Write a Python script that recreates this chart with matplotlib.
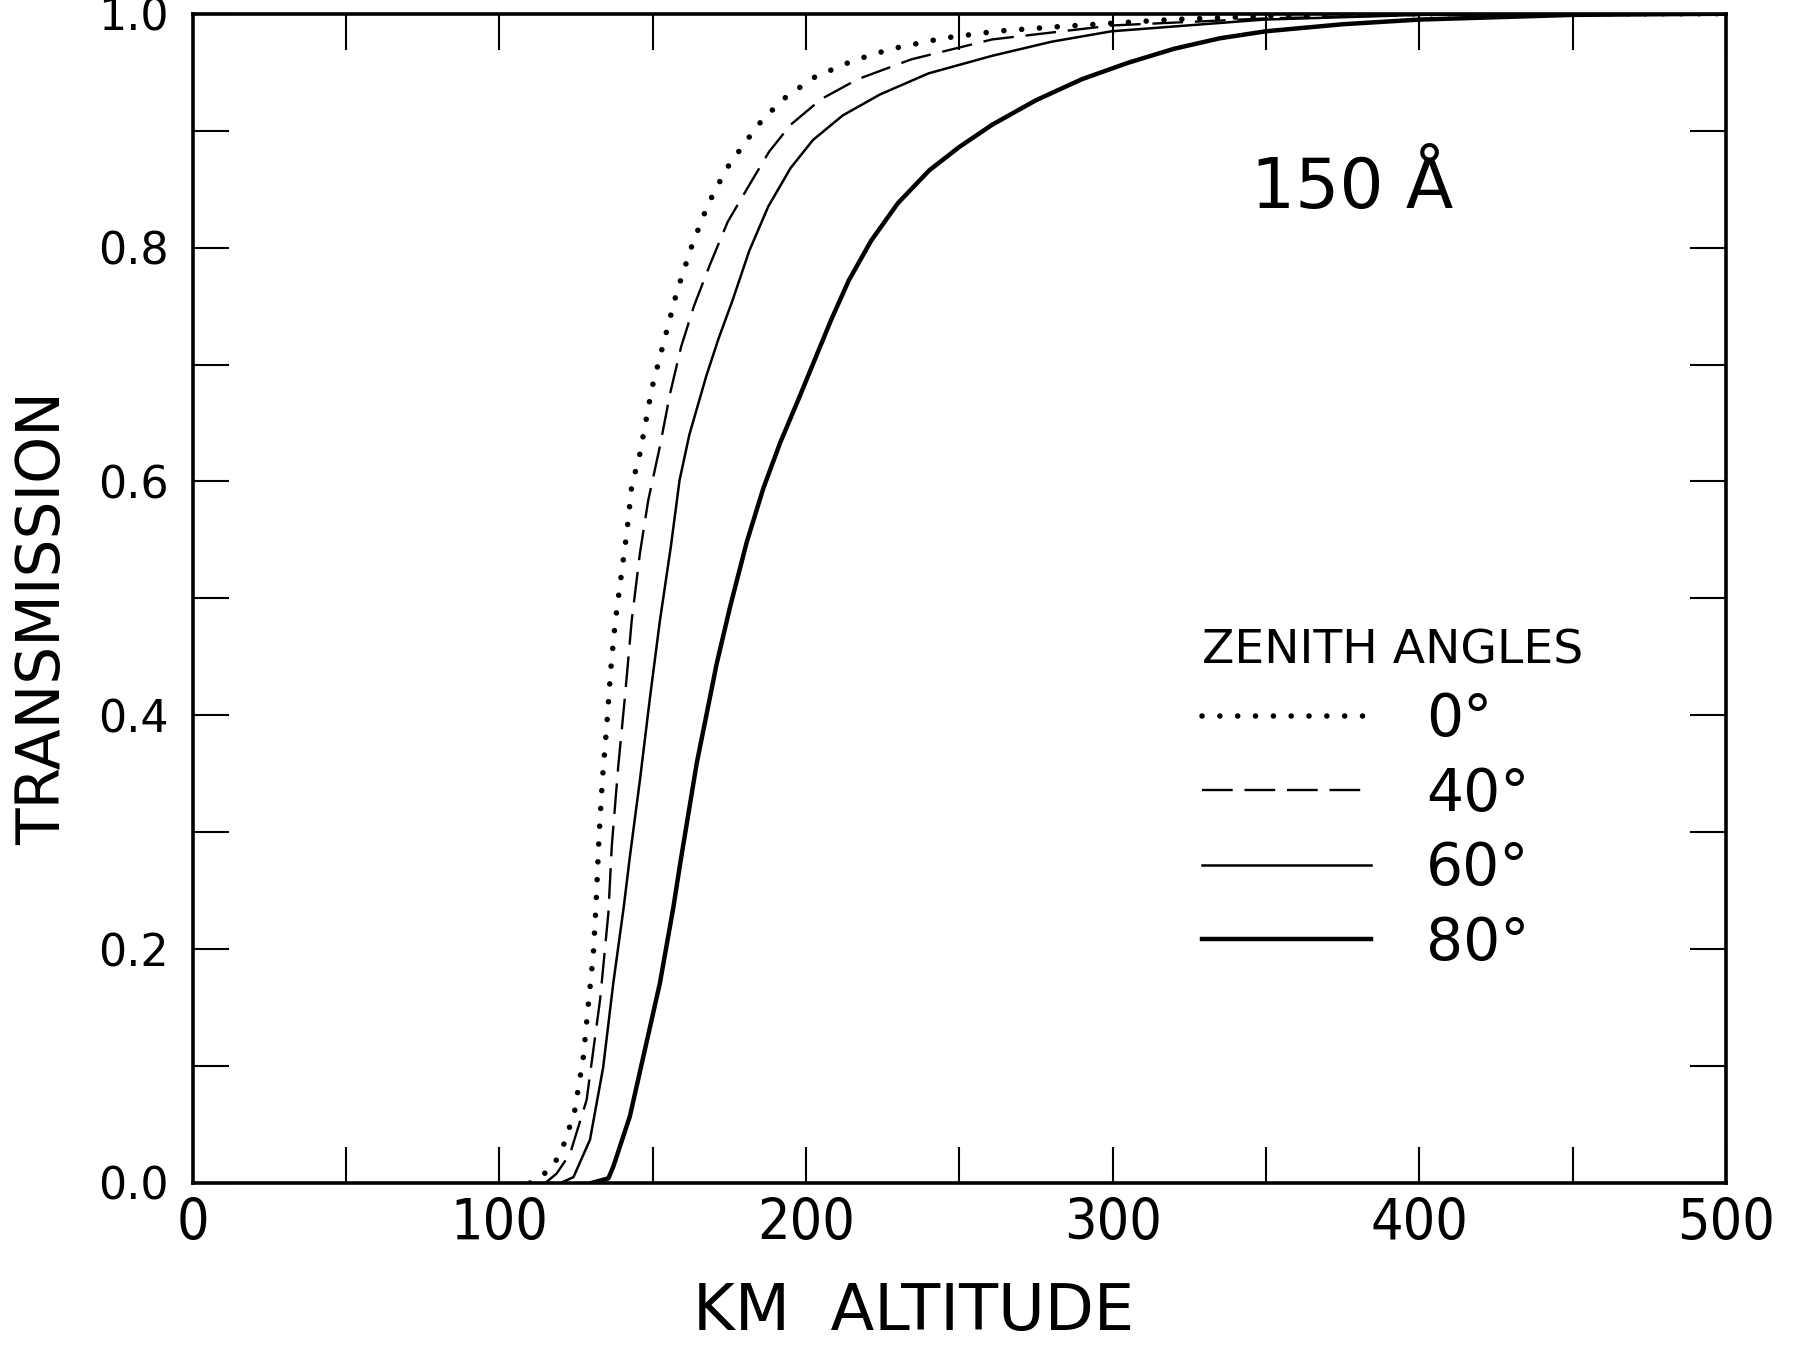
import matplotlib
matplotlib.use("Agg")
import matplotlib.pyplot as plt
from matplotlib.ticker import MultipleLocator, FixedLocator

# ---- data ----
alt_0 = [110, 117, 120.4, 124.5, 127.4, 129.1, 130.7, 131.6, 132.6, 133.7, 135.0, 136.4,
         137.8, 139.6, 141.6, 143.2, 145.9, 149.8, 157.9, 163.0, 168.1, 174.0, 180.5,
         186.0, 193.6, 203.0, 215.5, 228.0, 244.6, 262.0, 282.5, 319, 350, 400, 450, 500]
tr_0 = [0.0, 0.012, 0.028, 0.060, 0.107, 0.154, 0.196, 0.240, 0.299, 0.347, 0.389, 0.440,
        0.479, 0.516, 0.556, 0.596, 0.624, 0.680, 0.762, 0.803, 0.837, 0.867, 0.891,
        0.910, 0.929, 0.946, 0.960, 0.970, 0.979, 0.985, 0.989, 0.995, 0.998, 1.0, 1.0, 1.0]

alt_40 = [115, 118.7, 123.1, 128.5, 132.9, 135.6, 136.7, 138.8, 141.0, 143.2, 145.9, 148.6,
          152.4, 155.7, 159.3, 163.5, 168.8, 174.5, 181.2, 188.0, 195.0, 205.0, 216.9,
          234.4, 260.7, 300, 350, 400, 450, 500]
tr_40 = [0.0, 0.008, 0.025, 0.071, 0.157, 0.231, 0.288, 0.356, 0.416, 0.481, 0.539, 0.584,
         0.630, 0.675, 0.715, 0.750, 0.786, 0.822, 0.852, 0.882, 0.905, 0.927, 0.944,
         0.961, 0.978, 0.990, 0.996, 0.999, 1.0, 1.0]

alt_60 = [120, 124.2, 129.6, 133.9, 137.2, 140.6, 142.6, 145.9, 149.2, 152.4, 156.0, 158.8,
          162.0, 167.5, 171.5, 176.1, 181.5, 187.7, 195.0, 202.3, 212.0, 224.2, 240.0,
          260.7, 280.0, 299.7, 349.4, 400, 450, 500]
tr_60 = [0.0, 0.005, 0.037, 0.099, 0.171, 0.236, 0.279, 0.345, 0.416, 0.481, 0.545, 0.601,
         0.640, 0.690, 0.722, 0.755, 0.797, 0.835, 0.868, 0.892, 0.913, 0.931, 0.949,
         0.964, 0.976, 0.985, 0.995, 0.999, 1.0, 1.0]

alt_80 = [130, 135.6, 137.2, 142.6, 147.5, 152.4, 156.8, 159.0, 161.7, 164.4, 167.7, 170.9,
          175.3, 180.7, 186.1, 191.6, 197.7, 208.2, 214.0, 221.3, 230.0, 240.2, 250.0,
          260.7, 275.0, 290.0, 305.0, 320.0, 335.0, 350.0, 375.0, 400, 450, 500]
tr_80 = [0.0, 0.004, 0.014, 0.057, 0.114, 0.171, 0.236, 0.273, 0.316, 0.359, 0.402, 0.444,
         0.493, 0.548, 0.594, 0.633, 0.671, 0.738, 0.772, 0.806, 0.838, 0.866, 0.886,
         0.905, 0.926, 0.944, 0.958, 0.970, 0.979, 0.985, 0.991, 0.995, 0.999, 1.0]

angle_labels = ["0°", "40°", "60°", "80°"]
x_ticks = [0, 100, 200, 300, 400, 500]
y_ticks = [0.0, 0.2, 0.4, 0.6, 0.8, 1.0]
y_ticklabels = ["0.0", "0.2", "0.4", "0.6", "0.8", "1.0"]

# ---- figure ----
fig = plt.figure(figsize=(17.96, 13.46), dpi=100)
ax = fig.add_axes([0.1072, 0.1211, 0.961 - 0.1072, 0.9898 - 0.1211])

l0, = ax.plot(alt_0, tr_0, color="black", lw=4.0, linestyle=(0, (0.01, 3.2)),
              dash_capstyle="round")
l40, = ax.plot(alt_40, tr_40, color="black", lw=1.7, linestyle=(0, (13, 5)))
l60, = ax.plot(alt_60, tr_60, color="black", lw=1.8, linestyle="-")
l80, = ax.plot(alt_80, tr_80, color="black", lw=3.2, linestyle="-")

ax.set_xlim(0, 500)
ax.set_ylim(0, 1.0)

ax.xaxis.set_major_locator(FixedLocator(x_ticks))
ax.xaxis.set_minor_locator(MultipleLocator(50))
ax.yaxis.set_major_locator(FixedLocator(y_ticks))
ax.yaxis.set_minor_locator(MultipleLocator(0.1))
ax.set_yticklabels(y_ticklabels)
ax.set_xticklabels([str(v) for v in x_ticks])

ax.tick_params(which="both", direction="in", length=26, width=1.5,
               top=True, right=True, color="black")
ax.tick_params(axis="y", which="major", pad=17, labelsize=32)
ax.tick_params(axis="x", which="major", pad=10, labelsize=41)
for lab in ax.get_xticklabels():
    lab.set_fontstretch("condensed")

for sp in ax.spines.values():
    sp.set_linewidth(2.6)

ax.set_ylabel("TRANSMISSION", fontsize=43, family="DejaVu Sans")
ax.yaxis.set_label_coords(-0.078, 0.483)
ax.set_xlabel("KM  ALTITUDE", fontsize=46, family="DejaVu Sans")
ax.xaxis.label.set_verticalalignment("baseline")
ax.xaxis.set_label_coords(0.47, -0.126)

ax.text(0.690, 0.834, "150 Å", transform=ax.transAxes, fontsize=50,
        ha="left", va="baseline")

leg = ax.legend([l0, l40, l60, l80], angle_labels, title="ZENITH ANGLES",
                loc="upper left", bbox_to_anchor=(0.658, 0.474), frameon=False,
                fontsize=42, title_fontsize=34, alignment="left",
                borderpad=0, borderaxespad=0, handlelength=2.9, handletextpad=0.95,
                labelspacing=0.3)

fig.savefig("out.png", dpi=100, facecolor="white")
